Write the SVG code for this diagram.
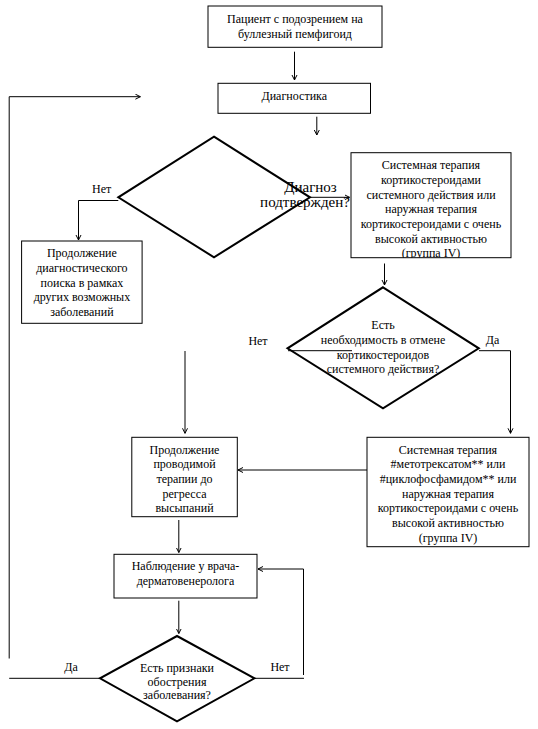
<svg xmlns="http://www.w3.org/2000/svg" width="538" height="729" viewBox="0 0 538 729">
<style>
  .box{fill:#fff;stroke:#000;stroke-width:1}
  .dia{fill:#fff;stroke:#000;stroke-width:2;stroke-linejoin:miter}
  text{font-family:'Liberation Serif','Times New Roman',serif;font-size:12px;fill:#000;text-anchor:middle}
  .big{font-size:15px}
  .c{fill:none;stroke:#000;stroke-width:1}
</style>
<defs>
  <marker id="ah" markerUnits="userSpaceOnUse" markerWidth="8" markerHeight="8" refX="5" refY="3" orient="auto">
    <path d="M0,0.5 L5,3 L0,5.5" fill="none" stroke="#000" stroke-width="1"/>
  </marker>
  <clipPath id="clipR1"><rect x="351" y="152.7" width="160" height="105"/></clipPath>
</defs>
<rect width="538" height="729" fill="#fff"/>

<g id="connectors">
  <path class="c" d="M294.5,51.7 V80" marker-end="url(#ah)"/>
  <path class="c" d="M316.8,116.7 V135" marker-end="url(#ah)"/>
  <path class="c" d="M310,197.3 H349.5" marker-end="url(#ah)"/>
  <path class="c" d="M118.3,200.5 H78.5 V240" marker-end="url(#ah)"/>
  <path class="c" d="M384.5,263.5 V285" marker-end="url(#ah)"/>
  <path class="c" d="M479,350.7 H510.5 V433.3" marker-end="url(#ah)"/>
  <path class="c" d="M185,351 V433.3" marker-end="url(#ah)"/>
  <path class="c" d="M367,470 H238" marker-end="url(#ah)"/>
  <path class="c" d="M178.8,520 V552.5" marker-end="url(#ah)"/>
  <path class="c" d="M178.8,600.7 V633.5" marker-end="url(#ah)"/>
  <path class="c" d="M254.5,678.3 H304"/>
  <path class="c" d="M303.5,675 V569 H258" marker-end="url(#ah)"/>
  <path class="c" d="M9.2,678.3 H100"/>
  <path class="c" d="M9.2,658.5 V96.7 H140.4" marker-end="url(#ah)"/>
</g>

<g id="start">
  <rect class="box" x="208" y="6" width="174" height="41.3"/>
  <text x="295" y="23.2">Пациент с подозрением на</text>
  <text x="295" y="37.5">буллезный пемфигоид</text>
</g>

<g id="diagnostics">
  <rect class="box" x="218" y="83.3" width="152.5" height="30"/>
  <text x="294.3" y="100.2">Диагностика</text>
</g>

<g id="decision1">
  <polygon class="dia" points="214,136.7 310,197.3 214,257.3 118.3,197.3"/>
  <text class="big" x="310.5" y="191.7">Диагноз</text>
  <text class="big" x="305" y="207.3">подтвержден?</text>
</g>

<g id="label-no1"><text x="101.7" y="192.5">Нет</text></g>

<g id="search">
  <rect class="box" x="21.6" y="241" width="120.5" height="82.3"/>
  <text x="81.9" y="257.2">Продолжение</text>
  <text x="81.9" y="271.9">диагностического</text>
  <text x="81.9" y="286.6">поиска в рамках</text>
  <text x="81.9" y="301.3">других возможных</text>
  <text x="81.9" y="316">заболеваний</text>
</g>

<g id="therapy1">
  <rect class="box" x="351" y="152.7" width="160" height="105"/>
  <g clip-path="url(#clipR1)">
    <text x="431" y="169.2">Системная терапия</text>
    <text x="431" y="183.9">кортикостероидами</text>
    <text x="431" y="198.6">системного действия или</text>
    <text x="431" y="213.3">наружная терапия</text>
    <text x="431" y="228">кортикостероидами с очень</text>
    <text x="431" y="242.7">высокой активностью</text>
    <text x="431" y="257.4">(группа IV)</text>
  </g>
</g>

<g id="decision2">
  <polygon class="dia" points="383,287.3 478.8,348.3 383,408.3 287.5,348.3"/>
  <path class="c" d="M288,350.7 H352"/>
  <text x="383" y="329.2">Есть</text>
  <text x="383" y="343.9">необходимость в отмене</text>
  <text x="383" y="358.6">кортикостероидов</text>
  <text x="383" y="373.3">системного действия?</text>
</g>

<g id="label-no2"><text x="258" y="344.8">Нет</text></g>
<g id="label-yes2"><text x="492.5" y="343.5">Да</text></g>

<g id="continue">
  <rect class="box" x="131.8" y="437.3" width="105.5" height="79.4"/>
  <text x="184.5" y="453.5">Продолжение</text>
  <text x="184.5" y="468.2">проводимой</text>
  <text x="184.5" y="482.9">терапии до</text>
  <text x="184.5" y="497.6">регресса</text>
  <text x="184.5" y="512.3">высыпаний</text>
</g>

<g id="therapy2">
  <rect class="box" x="367" y="437.3" width="162" height="109.4"/>
  <text x="448" y="453.5">Системная терапия</text>
  <text x="448" y="468.2">#метотрексатом** или</text>
  <text x="448" y="482.9">#циклофосфамидом** или</text>
  <text x="448" y="497.6">наружная терапия</text>
  <text x="448" y="512.3">кортикостероидами с очень</text>
  <text x="448" y="527">высокой активностью</text>
  <text x="448" y="541.7">(группа IV)</text>
</g>

<g id="observation">
  <rect class="box" x="114" y="554.3" width="143" height="43.7"/>
  <text x="185.5" y="570.2">Наблюдение у врача-</text>
  <text x="185.5" y="584.9">дерматовенеролога</text>
</g>

<g id="decision3">
  <polygon class="dia" points="177,636 254.5,678.3 177,721.3 100,678.3"/>
  <text x="177" y="671.7">Есть признаки</text>
  <text x="177" y="685.7">обострения</text>
  <text x="177" y="699.2">заболевания?</text>
</g>

<g id="label-yes3"><text x="71" y="671">Да</text></g>
<g id="label-no3"><text x="280" y="671">Нет</text></g>
</svg>
